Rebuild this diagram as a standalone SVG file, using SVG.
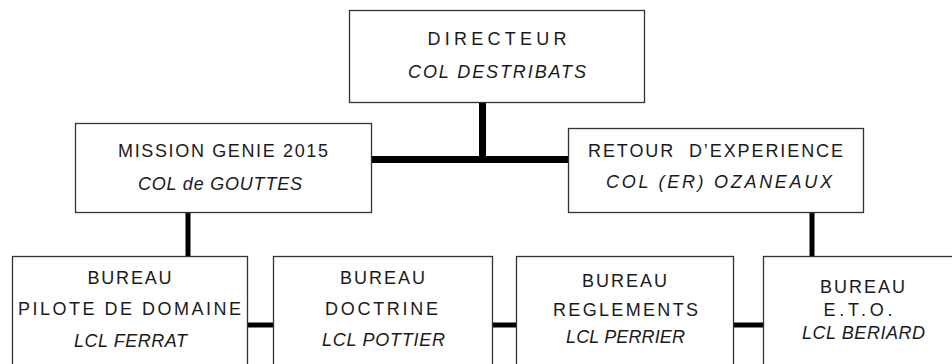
<svg xmlns="http://www.w3.org/2000/svg" width="952" height="364" viewBox="0 0 952 364">
<style>
.box{fill:#fff;stroke:#333;stroke-width:1.3}
.t{font-family:"Liberation Sans",Arial,sans-serif;font-size:18px;fill:#1a1a1a;text-anchor:middle}
.i{font-style:italic}
.c{fill:#000}
</style>
<rect width="952" height="364" fill="#fff"/>
<g id="connectors">
<rect class="c" x="479" y="102" width="7" height="58"/>
<rect class="c" x="372" y="156" width="196" height="7"/>
<rect class="c" x="185.5" y="213" width="5" height="43"/>
<rect class="c" x="809.5" y="213" width="5" height="43"/>
<rect class="c" x="247" y="322.5" width="26" height="5"/>
<rect class="c" x="492" y="322.5" width="24" height="5"/>
<rect class="c" x="733" y="322.5" width="30" height="5"/>
</g>
<g id="directeur">
<rect class="box" x="349.5" y="10.5" width="295" height="92"/>
<text class="t" x="497" y="45" textLength="139" lengthAdjust="spacing">DIRECTEUR</text>
<text class="t i" x="497" y="78" textLength="178" lengthAdjust="spacing">COL DESTRIBATS</text>
</g>
<g id="mission">
<rect class="box" x="75.5" y="123.5" width="296" height="89"/>
<text class="t" x="223" y="157" textLength="210" lengthAdjust="spacing">MISSION GENIE 2015</text>
<text class="t i" x="220" y="190" textLength="164" lengthAdjust="spacing">COL de GOUTTES</text>
</g>
<g id="retour">
<rect class="box" x="568.5" y="128.5" width="295" height="84"/>
<text class="t" x="715.5" y="157" textLength="255" lengthAdjust="spacing" xml:space="preserve">RETOUR  D’EXPERIENCE</text>
<text class="t i" x="719" y="188" textLength="226" lengthAdjust="spacing">COL (ER) OZANEAUX</text>
</g>
<g id="pilote">
<rect class="box" x="12.5" y="256.5" width="235" height="130"/>
<text class="t" x="129.5" y="284" textLength="84" lengthAdjust="spacing">BUREAU</text>
<text class="t" x="129.5" y="315" textLength="223" lengthAdjust="spacing">PILOTE DE DOMAINE</text>
<text class="t i" x="130.5" y="347" textLength="113" lengthAdjust="spacing">LCL FERRAT</text>
</g>
<g id="doctrine">
<rect class="box" x="273.5" y="256.5" width="219" height="130"/>
<text class="t" x="382.5" y="284" textLength="85" lengthAdjust="spacing">BUREAU</text>
<text class="t" x="381.5" y="315" textLength="113" lengthAdjust="spacing">DOCTRINE</text>
<text class="t i" x="383.5" y="346" textLength="123" lengthAdjust="spacing">LCL POTTIER</text>
</g>
<g id="reglements">
<rect class="box" x="516.5" y="256.5" width="217" height="130"/>
<text class="t" x="624.5" y="287" textLength="85" lengthAdjust="spacing">BUREAU</text>
<text class="t" x="625.5" y="316" textLength="145" lengthAdjust="spacing">REGLEMENTS</text>
<text class="t i" x="625.5" y="343" textLength="119" lengthAdjust="spacing">LCL PERRIER</text>
</g>
<g id="eto">
<rect class="box" x="763.5" y="256.5" width="200" height="130"/>
<text class="t" x="862.5" y="293" textLength="85" lengthAdjust="spacing">BUREAU</text>
<text class="t" x="858" y="316" textLength="69" lengthAdjust="spacing">E.T.O.</text>
<text class="t i" x="863.5" y="339" textLength="123" lengthAdjust="spacing">LCL BERIARD</text>
</g>
</svg>
